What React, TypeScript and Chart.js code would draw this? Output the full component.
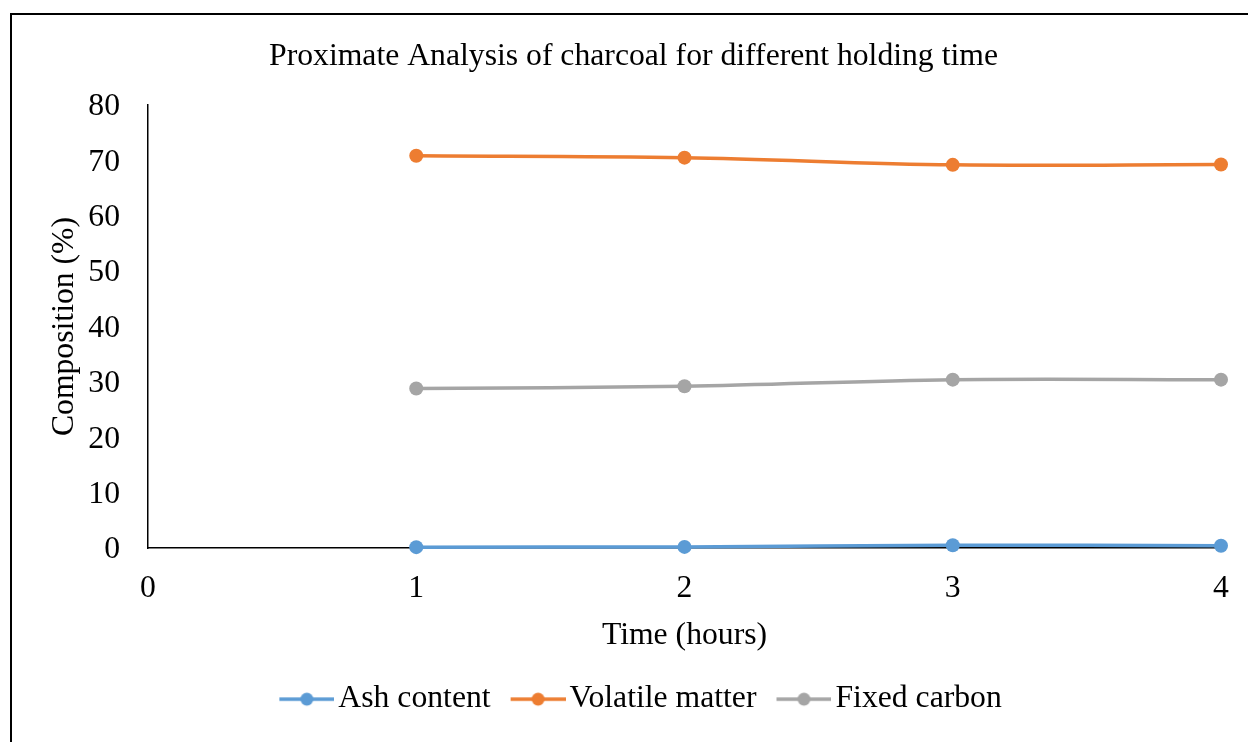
import React, { useEffect, useRef } from "react";
import { Chart, registerables } from "chart.js";

Chart.register(...registerables);

const hours = [1, 2, 3, 4];
const ashContent = [0.15, 0.2, 0.5, 0.4];
const volatileMatter = [70.85, 70.5, 69.2, 69.25];
const fixedCarbon = [28.8, 29.2, 30.4, 30.4];
const seriesNames = ["Ash content", "Volatile matter", "Fixed carbon"];
const seriesColors = ["#5B9BD5", "#ED7D31", "#A5A5A5"];

const FONT = "'Liberation Serif', 'Times New Roman', serif";
const FS = 31.7;

function makeLegendIcon(color: string): HTMLCanvasElement {
  const c = document.createElement("canvas");
  c.width = 81;
  c.height = 16;
  const ctx = c.getContext("2d")!;
  ctx.strokeStyle = color;
  ctx.lineWidth = 3.5;
  ctx.beginPath();
  ctx.moveTo(26, 8);
  ctx.lineTo(81, 8);
  ctx.stroke();
  ctx.fillStyle = color;
  ctx.beginPath();
  ctx.arc(53.5, 8, 6.5, 0, Math.PI * 2);
  ctx.fill();
  return c;
}

export default function App() {
  const ref = useRef<HTMLCanvasElement | null>(null);

  useEffect(() => {
    if (!ref.current) return;
    const icons = seriesColors.map(makeLegendIcon);
    const toPts = (arr: number[]) => hours.map((h, i) => ({ x: h, y: arr[i] }));
    const all = [ashContent, volatileMatter, fixedCarbon];
    const chart = new Chart(ref.current, {
      type: "line",
      data: {
        datasets: all.map((arr, i) => ({
          label: seriesNames[i],
          data: toPts(arr),
          borderColor: seriesColors[i],
          backgroundColor: seriesColors[i],
          pointBackgroundColor: seriesColors[i],
          pointBorderColor: seriesColors[i],
          borderWidth: 3.5,
          pointRadius: 7,
          pointBorderWidth: 0,
          tension: 0.35,
          clip: false as any,
        })),
      },
      options: {
        animation: false,
        responsive: false,
        devicePixelRatio: 1,
        layout: { padding: { left: 46, right: 27, top: 37.5, bottom: 17 } },
        plugins: {
          title: {
            display: true,
            text: "Proximate Analysis of charcoal for different holding time",
            color: "#000",
            font: { family: FONT, size: FS, weight: "normal" },
            padding: { top: 0, bottom: 29.5 },
          },
          legend: {
            display: true,
            position: "bottom",
            labels: {
              color: "#000",
              font: { family: FONT, size: FS },
              usePointStyle: true,
              pointStyleWidth: 57.3,
              padding: 5.85,
              generateLabels: (ch: any) => {
                const items = (Chart.defaults.plugins.legend.labels as any).generateLabels(ch);
                return items.map((it: any, i: number) => ({ ...it, pointStyle: icons[i] }));
              },
            },
          },
          tooltip: { enabled: false },
        },
        scales: {
          x: {
            type: "linear",
            min: 0,
            max: 4,
            grid: { display: false, drawTicks: false },
            border: { display: true, color: "#000", width: 1.5 },
            ticks: {
              stepSize: 1,
              color: "#000",
              font: { family: FONT, size: FS },
              padding: 22,
            },
            title: {
              display: true,
              text: "Time (hours)",
              color: "#000",
              font: { family: FONT, size: FS },
              padding: { top: 0, bottom: 23 },
            },
            afterFit: (s: any) => {
              s.height = 129.45;
              s.paddingLeft = 0;
              s.paddingRight = 0;
            },
          },
          y: {
            min: 0,
            max: 80,
            grid: { display: false, drawTicks: false },
            border: { display: true, color: "#000", width: 1.5 },
            ticks: {
              stepSize: 10,
              color: "#000",
              font: { family: FONT, size: FS },
              padding: 28,
              labelOffset: 2,
            },
            title: {
              display: true,
              text: "Composition (%)",
              color: "#000",
              font: { family: FONT, size: FS },
              padding: { top: 0, bottom: 0 },
            },
            afterFit: (s: any) => {
              s.width = 102;
            },
          },
        },
      } as any,
    });
    return () => chart.destroy();
  }, []);

  return (
    <div style={{ position: "fixed", left: 0, top: 0, width: 1248, height: 742, overflow: "hidden", background: "#fff" }}>
      <canvas ref={ref} width={1248} height={742} style={{ position: "absolute", left: 0, top: 0, display: "block" }} />
      <div
        style={{
          position: "absolute",
          left: 10,
          top: 13,
          width: 1400,
          height: 900,
          border: "2px solid #000",
          pointerEvents: "none",
        }}
      />
    </div>
  );
}
